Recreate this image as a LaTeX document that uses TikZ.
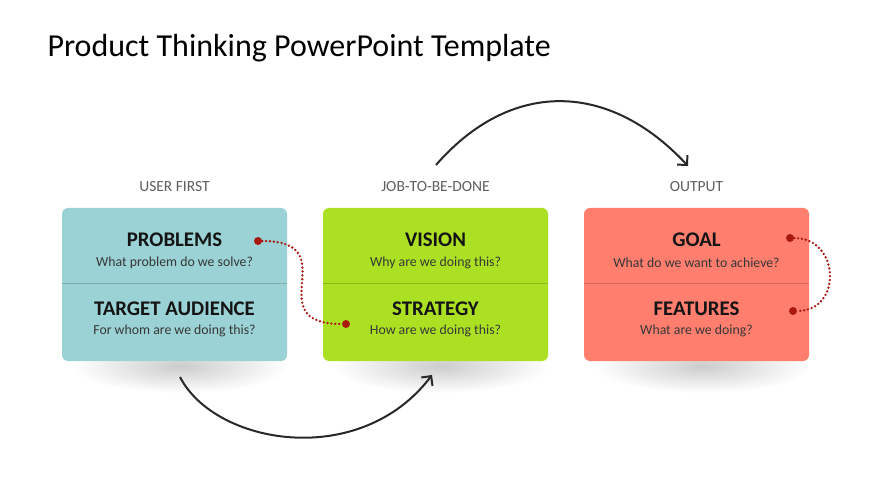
\documentclass[tikz,border=0pt]{standalone}
\usepackage{fontspec}
\setmainfont{Carlito}
\usepackage{tikz}
\usetikzlibrary{positioning, arrows.meta}
\definecolor{userblue}{RGB}{155,210,213}
\definecolor{jobgreen}{RGB}{172,225,35}
\definecolor{outred}{RGB}{255,126,110}
\definecolor{dotred}{RGB}{170,25,15}
\definecolor{labelgray}{RGB}{95,95,95}
\definecolor{textdark}{RGB}{20,20,20}
\definecolor{arcgray}{RGB}{40,40,40}
\tikzset{
  card/.style={
    rectangle, rounded corners=6pt, minimum width=225pt,
    minimum height=153pt, inner sep=0pt
  },
  head/.style={font=\fontsize{20.8}{24}\selectfont\bfseries, text=textdark, inner sep=0pt},
  sub/.style={font=\fontsize{13.8}{16}\selectfont, text=textdark!85, inner sep=0pt},
  colhead/.style={font=\fontsize{15.5}{18}\selectfont, text=labelgray, inner sep=0pt},
  dot/.style={circle, fill=dotred, minimum size=8pt, inner sep=0pt},
  dotline/.style={draw=dotred, line width=2.6pt, line cap=round, dash pattern=on 0pt off 3.9pt},
  flow/.style={draw=arcgray, line width=2pt, -{Straight Barb[length=7pt, width=14pt]}},
  divider/.style={line width=0.8pt},
  shadow/.style={inner color=black!20, outer color=white},
}

\begin{document}
\begin{tikzpicture}[x=1pt, y=1pt]
  \fill[white] (0,0) rectangle (870,-489);
  \useasboundingbox (0,0) rectangle (870,-489);

  \node[anchor=base west, font=\fontsize{32}{38}\selectfont, text=black] (title) at (44,-57)
    {Product Thinking PowerPoint Template};

  % soft shadows under the cards
  \foreach \cx in {180,441,702}
    \shade[shadow] (\cx,-366) ellipse (108 and 27);

  % the three cards
  \node[card, fill=userblue] (user) at (174.5,-284.5) {};
  \node[card, fill=jobgreen] (job) at (435.5,-284.5) {};
  \node[card, fill=outred] (output) at (696.5,-284.5) {};

  \node[colhead, above=16pt of user] (userlbl) {USER FIRST};
  \node[colhead, above=16pt of job] (joblbl) {JOB-TO-BE-DONE};
  \node[colhead, above=16pt of output] (outlbl) {OUTPUT};

  \draw[divider, draw=userblue!82!black] ([yshift=-76pt]user.north west) -- ([yshift=-76pt]user.north east);
  \draw[divider, draw=jobgreen!82!black] ([yshift=-76pt]job.north west) -- ([yshift=-76pt]job.north east);
  \draw[divider, draw=outred!82!black] ([yshift=-76pt]output.north west) -- ([yshift=-76pt]output.north east);

  % card texts
  \node[head] (problems) at ([yshift=-32pt]user.north) {PROBLEMS};
  \node[sub] (problemsq) at ([yshift=-55pt]user.north) {What problem do we solve?};
  \node[head] (audience) at ([yshift=-101pt]user.north) {TARGET AUDIENCE};
  \node[sub] (audienceq) at ([yshift=-123pt]user.north) {For whom are we doing this?};

  \node[head] (vision) at ([yshift=-32pt]job.north) {VISION};
  \node[sub] (visionq) at ([yshift=-55pt]job.north) {Why are we doing this?};
  \node[head] (strategy) at ([yshift=-101pt]job.north) {STRATEGY};
  \node[sub] (strategyq) at ([yshift=-123pt]job.north) {How are we doing this?};

  \node[head] (goal) at ([yshift=-32pt]output.north) {GOAL};
  \node[sub] (goalq) at ([yshift=-55pt]output.north) {What do we want to achieve?};
  \node[head] (features) at ([yshift=-101pt]output.north) {FEATURES};
  \node[sub] (featuresq) at ([yshift=-123pt]output.north) {What are we doing?};

  % dotted links
  \node[dot] (pdot) at (258,-241) {};
  \node[dot] (sdot) at (346,-324) {};
  \node[dot] (gdot) at (790,-238) {};
  \node[dot] (fdot) at (793,-311) {};
  \draw[dotline] (pdot) to[out=0, in=180, looseness=1.9] (sdot);
  \draw[dotline] (gdot) to[out=0, in=0, looseness=1.6] (fdot);

  % flow arcs
  \coordinate (lowstart) at (180,-377);
  \coordinate (lowend) at (432,-375);
  \coordinate (topstart) at (436,-165);
  \coordinate (topend) at (688,-166);
  \draw[flow] (lowstart) .. controls (215,-445) and (360,-470) .. (lowend);
  \draw[flow] (topstart) .. controls (510,-80) and (608,-80) .. (topend);
\end{tikzpicture}
\end{document}
